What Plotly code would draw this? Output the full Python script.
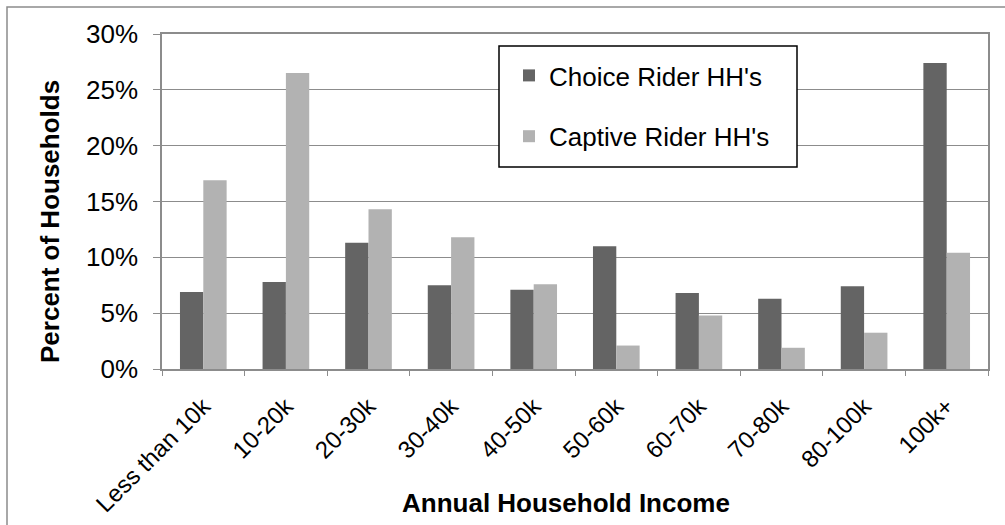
import plotly.graph_objects as go

categories = ["Less than 10k", "10-20k", "20-30k", "30-40k", "40-50k",
              "50-60k", "60-70k", "70-80k", "80-100k", "100k+"]
choice_pct = [6.9, 7.8, 11.3, 7.5, 7.1, 11.0, 6.8, 6.3, 7.4, 27.4]
captive_pct = [16.9, 26.5, 14.3, 11.8, 7.6, 2.1, 4.8, 1.9, 3.25, 10.4]
y_ticks = [0, 5, 10, 15, 20, 25, 30]
y_tick_labels = [f"{v}%" for v in y_ticks]

FONT = "Liberation Sans, Arial, sans-serif"
GRID = "#8c8c8c"

# plot area in pixels (used to convert to paper coordinates)
L, R, T, B = 162, 988, 34, 369
W, H = 1005, 525


def px_x(p):
    return (p - L) / (R - L)


def px_y(p):
    return (B - p) / (B - T)


fig = go.Figure()
fig.add_trace(go.Bar(x=categories, y=choice_pct, name="Choice Rider HH's",
                     marker=dict(color="#646464", line=dict(width=0)),
                     legendgroup="a"))
fig.add_trace(go.Bar(x=categories, y=captive_pct, name="Captive Rider HH's",
                     marker=dict(color="#b2b2b2", line=dict(width=0)),
                     legendgroup="b"))

fig.update_layout(
    width=W, height=H,
    margin=dict(l=L, r=W - R, t=T, b=H - B, autoexpand=False),
    paper_bgcolor="white", plot_bgcolor="white",
    barmode="group", bargap=0.435, bargroupgap=0,
    font=dict(family=FONT, color="black", size=26),
    legend=dict(x=px_x(509), y=px_y(52), xanchor="left", yanchor="top",
                bgcolor="rgba(0,0,0,0)", borderwidth=0,
                font=dict(size=26, family=FONT), tracegroupgap=24,
                itemwidth=30),
    showlegend=True,
)

fig.update_xaxes(
    type="category", tickangle=-45, tickson="boundaries",
    ticks="outside", ticklen=5, tickcolor=GRID, tickwidth=1,
    showline=True, linecolor=GRID, linewidth=1.5, mirror=True,
    showgrid=False, tickfont=dict(size=24, family=FONT),
    ticklabelstandoff=12, automargin=False,
)
fig.update_yaxes(
    range=[0, 30], tickvals=y_ticks, ticktext=y_tick_labels,
    ticks="outside", ticklen=7, tickcolor=GRID, tickwidth=1,
    showline=True, linecolor=GRID, linewidth=1.5, mirror=True,
    showgrid=True, gridcolor=GRID, gridwidth=1,
    zeroline=False, tickfont=dict(size=26, family=FONT),
    ticklabelstandoff=10, automargin=False,
)

# Axis titles
fig.add_annotation(text="<b>Annual Household Income</b>", xref="paper", yref="paper",
                   x=px_x(566), y=px_y(503), xanchor="center", yanchor="middle",
                   showarrow=False, font=dict(size=26, family=FONT))
fig.add_annotation(text="<b>Percent of Households</b>", xref="paper", yref="paper",
                   x=px_x(50), y=px_y(222), xanchor="center", yanchor="middle",
                   textangle=-90, showarrow=False, font=dict(size=26, family=FONT))

# Outer chart frame
fig.add_shape(type="rect", xref="paper", yref="paper",
              x0=px_x(7), x1=px_x(1030), y0=px_y(560), y1=px_y(7),
              line=dict(color=GRID, width=1.5), layer="below")
# Legend frame
fig.add_shape(type="rect", xref="paper", yref="paper",
              x0=px_x(499), x1=px_x(797), y0=px_y(167), y1=px_y(46),
              line=dict(color="black", width=1.5), fillcolor="white",
              layer="above")

fig.write_html("out.html")
